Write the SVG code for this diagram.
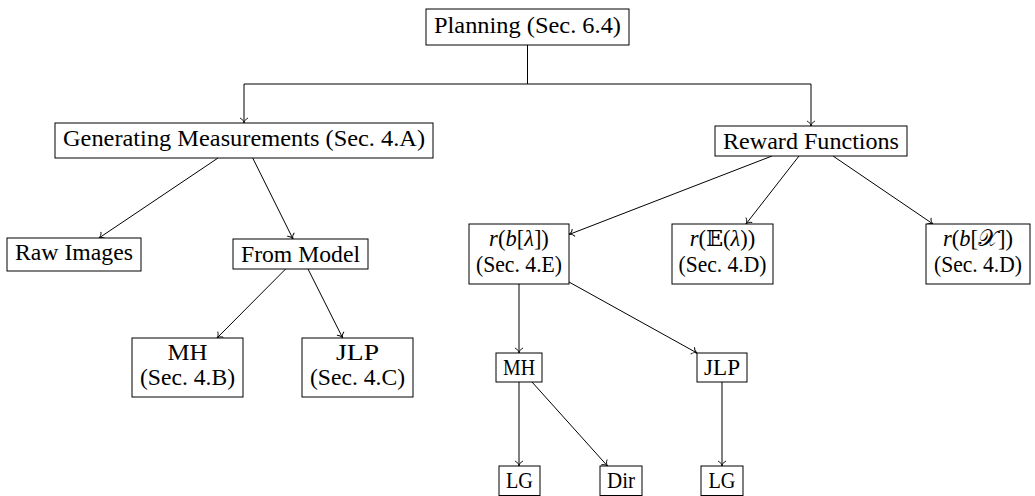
<svg xmlns="http://www.w3.org/2000/svg" width="1035" height="496" viewBox="0 0 1035 496">
  <style>
    .box { fill: #ffffff; stroke: #000000; stroke-width: 1; }
    .lbl { font-family: "Liberation Serif", "DejaVu Serif", serif; font-size: 22.5px; fill: #000000; text-anchor: middle; }
    .it { font-style: italic; }
    .sym { font-family: "DejaVu Serif", "DejaVu Sans", "Noto Sans", serif; font-style: normal; }
    .edge { fill: none; stroke: #000000; stroke-width: 1; marker-end: url(#to); }
  </style>
  <defs>
    <!-- open curved "to" arrow tip -->
    <marker id="to" markerUnits="userSpaceOnUse" viewBox="-7 -6 9 12" markerWidth="9" markerHeight="12" refX="0" refY="0" orient="auto" overflow="visible">
      <path d="M-5,-4 C-4,-1.5 -1.5,-0.3 0,0 C-1.5,0.3 -4,1.5 -5,4" fill="none" stroke="#000000" stroke-width="0.9"/>
    </marker>
  </defs>

  <rect width="1035" height="496" fill="#ffffff"/>

  <!-- connectors -->
  <g id="connectors">
    <path class="edge" d="M527.5,45 V84 H244 V123"/>
    <path class="edge" d="M527.5,45 V84 H811 V126"/>
    <path class="edge" d="M218,158 L99,238"/>
    <path class="edge" d="M252.7,158 L293,239"/>
    <path class="edge" d="M285.6,269 L217,338"/>
    <path class="edge" d="M308,269 L342.7,338"/>
    <path class="edge" d="M772,156 L569,234.5"/>
    <path class="edge" d="M799,156 L746,224"/>
    <path class="edge" d="M833,156 L933,224"/>
    <path class="edge" d="M519,284 V353"/>
    <path class="edge" d="M569,282 L697,353"/>
    <path class="edge" d="M519,382 V466"/>
    <path class="edge" d="M532,382 L607.5,466"/>
    <path class="edge" d="M722,382 V466"/>
  </g>

  <!-- nodes -->
  <g id="planning">
    <rect class="box" x="426" y="9" width="203" height="36"/>
    <text class="lbl" x="527.5" y="33" textLength="187" lengthAdjust="spacingAndGlyphs">Planning (Sec. 6.4)</text>
  </g>
  <g id="generating-measurements">
    <rect class="box" x="55" y="123" width="378" height="35"/>
    <text class="lbl" x="244" y="146" textLength="362" lengthAdjust="spacingAndGlyphs">Generating Measurements (Sec. 4.A)</text>
  </g>
  <g id="reward-functions">
    <rect class="box" x="715" y="126" width="192" height="30"/>
    <text class="lbl" x="811" y="148.5" textLength="176" lengthAdjust="spacingAndGlyphs">Reward Functions</text>
  </g>
  <g id="raw-images">
    <rect class="box" x="7" y="238" width="134" height="33"/>
    <text class="lbl" x="74" y="259.5" textLength="118" lengthAdjust="spacingAndGlyphs">Raw Images</text>
  </g>
  <g id="from-model">
    <rect class="box" x="233" y="239" width="135" height="30"/>
    <text class="lbl" x="300.5" y="261.5" textLength="119" lengthAdjust="spacingAndGlyphs">From Model</text>
  </g>
  <g id="mh-model">
    <rect class="box" x="132" y="338" width="111" height="59"/>
    <text class="lbl" x="187.5" y="359.5" textLength="40" lengthAdjust="spacingAndGlyphs">MH</text>
    <text class="lbl" x="187.5" y="384.5" textLength="95" lengthAdjust="spacingAndGlyphs">(Sec. 4.B)</text>
  </g>
  <g id="jlp-model">
    <rect class="box" x="302" y="338" width="111" height="59"/>
    <text class="lbl" x="357.5" y="359.5" textLength="43" lengthAdjust="spacingAndGlyphs">JLP</text>
    <text class="lbl" x="357.5" y="384.5" textLength="95" lengthAdjust="spacingAndGlyphs">(Sec. 4.C)</text>
  </g>
  <g id="reward-b-lambda">
    <rect class="box" x="469" y="224" width="100" height="60"/>
    <text class="lbl" x="519" y="246"><tspan class="it">r</tspan>(<tspan class="it">b</tspan>[<tspan class="it">λ</tspan>])</text>
    <text class="lbl" x="519" y="271.5" textLength="86" lengthAdjust="spacingAndGlyphs">(Sec. 4.E)</text>
  </g>
  <g id="reward-expected-lambda">
    <rect class="box" x="672" y="224" width="101" height="60"/>
    <text class="lbl" x="722.5" y="246"><tspan class="it">r</tspan>(<tspan class="sym">𝔼</tspan>(<tspan class="it">λ</tspan>))</text>
    <text class="lbl" x="722.5" y="271.5" textLength="88" lengthAdjust="spacingAndGlyphs">(Sec. 4.D)</text>
  </g>
  <g id="reward-b-state">
    <rect class="box" x="926" y="224" width="104" height="60"/>
    <text class="lbl" x="978" y="246"><tspan class="it">r</tspan>(<tspan class="it">b</tspan>[<tspan class="sym">𝒳</tspan>])</text>
    <text class="lbl" x="978" y="271.5" textLength="88" lengthAdjust="spacingAndGlyphs">(Sec. 4.D)</text>
  </g>
  <g id="mh-reward">
    <rect class="box" x="496" y="353" width="46" height="29"/>
    <text class="lbl" x="519" y="375" textLength="32" lengthAdjust="spacingAndGlyphs">MH</text>
  </g>
  <g id="jlp-reward">
    <rect class="box" x="697" y="353" width="50" height="29"/>
    <text class="lbl" x="722" y="375" textLength="36" lengthAdjust="spacingAndGlyphs">JLP</text>
  </g>
  <g id="lg-mh">
    <rect class="box" x="499" y="466" width="41" height="29.5"/>
    <text class="lbl" x="519.5" y="488" textLength="27" lengthAdjust="spacingAndGlyphs">LG</text>
  </g>
  <g id="dir-mh">
    <rect class="box" x="600" y="466" width="42" height="29.5"/>
    <text class="lbl" x="621" y="488" textLength="28" lengthAdjust="spacingAndGlyphs">Dir</text>
  </g>
  <g id="lg-jlp">
    <rect class="box" x="701" y="466" width="42" height="29.5"/>
    <text class="lbl" x="722" y="488" textLength="27" lengthAdjust="spacingAndGlyphs">LG</text>
  </g>
</svg>
